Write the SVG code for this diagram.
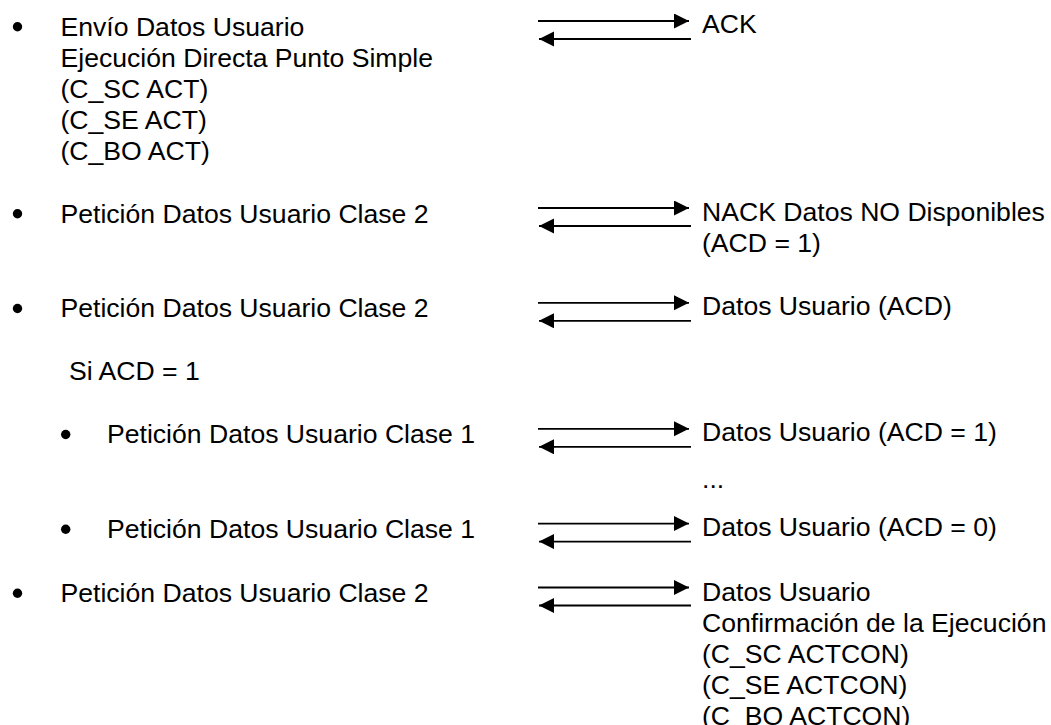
<svg xmlns="http://www.w3.org/2000/svg" width="1051" height="725" viewBox="0 0 1051 725">
<style>
text{font-family:"Liberation Sans",Arial,sans-serif;font-size:26.6px;fill:#000}
.b{fill:#000}
.a{stroke:#000;stroke-width:1.8;fill:none;marker-end:url(#ah)}
</style>
<defs>
<marker id="ah" markerUnits="userSpaceOnUse" markerWidth="16" markerHeight="16" refX="15" refY="7.5" orient="auto">
<path d="M0,0 L15,7.5 L0,15 z" fill="#000"/>
</marker>
</defs>
<rect width="1051" height="725" fill="#fff"/>

<g id="n1">
<circle class="b" cx="17.5" cy="26.7" r="4.7"/>
<text x="60.5" y="35.5">Envío Datos Usuario</text>
<text x="60.5" y="66.5">Ejecución Directa Punto Simple</text>
<text x="60.5" y="97.5">(C_SC ACT)</text>
<text x="60.5" y="128.5">(C_SE ACT)</text>
<text x="60.5" y="159.5">(C_BO ACT)</text>
</g>
<g id="r1"><text x="702" y="33">ACK</text></g>

<g id="n2">
<circle class="b" cx="17.5" cy="213.7" r="4.7"/>
<text x="60.5" y="222.5">Petición Datos Usuario Clase 2</text>
</g>
<g id="r2">
<text x="702" y="220.5">NACK Datos NO Disponibles</text>
<text x="702" y="251.5">(ACD = 1)</text>
</g>

<g id="n3">
<circle class="b" cx="17.5" cy="308.5" r="4.7"/>
<text x="60.5" y="317.3">Petición Datos Usuario Clase 2</text>
</g>
<g id="r3"><text x="702" y="315">Datos Usuario (ACD)</text></g>

<g id="n4"><text x="69" y="379.5">Si ACD = 1</text></g>

<g id="n5">
<circle class="b" cx="65.7" cy="434.5" r="4.7"/>
<text x="107" y="443.3">Petición Datos Usuario Clase 1</text>
</g>
<g id="r5"><text x="702" y="441">Datos Usuario (ACD = 1)</text></g>

<g id="r6"><text x="702" y="488">...</text></g>

<g id="n7">
<circle class="b" cx="65.7" cy="529.3" r="4.7"/>
<text x="107" y="538.1">Petición Datos Usuario Clase 1</text>
</g>
<g id="r7"><text x="702" y="536">Datos Usuario (ACD = 0)</text></g>

<g id="n8">
<circle class="b" cx="17.5" cy="593.2" r="4.7"/>
<text x="60.5" y="602">Petición Datos Usuario Clase 2</text>
</g>
<g id="r8">
<text x="702" y="601">Datos Usuario</text>
<text x="702" y="632">Confirmación de la Ejecución</text>
<text x="702" y="663">(C_SC ACTCON)</text>
<text x="702" y="694">(C_SE ACTCON)</text>
<text x="702" y="725">(C_BO ACTCON)</text>
</g>

<g id="connectors">
<line class="a" x1="538" y1="21" x2="689" y2="21"/>
<line class="a" x1="691" y1="39" x2="539" y2="39"/>
<line class="a" x1="538" y1="208" x2="689" y2="208"/>
<line class="a" x1="691" y1="226" x2="539" y2="226"/>
<line class="a" x1="538" y1="302.8" x2="689" y2="302.8"/>
<line class="a" x1="691" y1="320.8" x2="539" y2="320.8"/>
<line class="a" x1="538" y1="428.8" x2="689" y2="428.8"/>
<line class="a" x1="691" y1="446.8" x2="539" y2="446.8"/>
<line class="a" x1="538" y1="523.6" x2="689" y2="523.6"/>
<line class="a" x1="691" y1="541.6" x2="539" y2="541.6"/>
<line class="a" x1="538" y1="587.5" x2="689" y2="587.5"/>
<line class="a" x1="691" y1="605.5" x2="539" y2="605.5"/>
</g>
</svg>
